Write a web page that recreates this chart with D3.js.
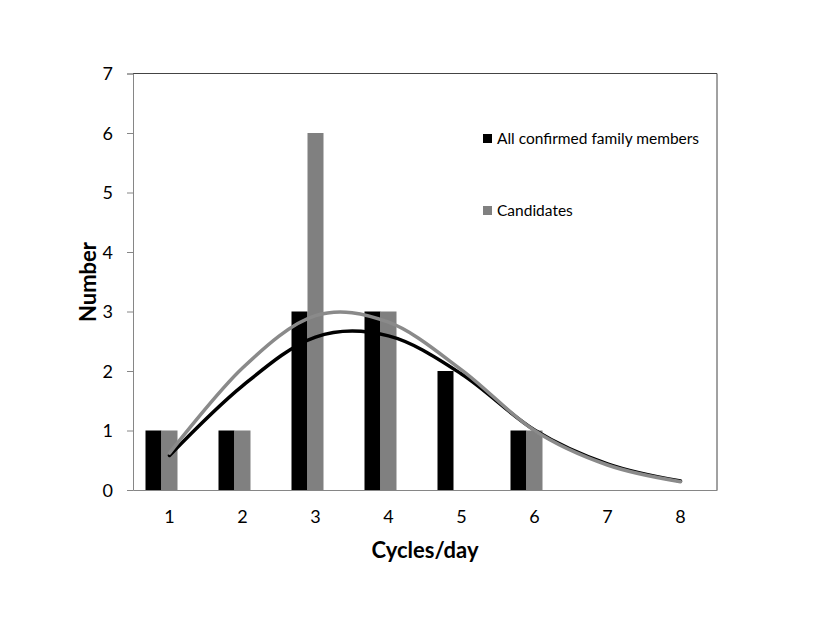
<!DOCTYPE html>
<html>
<head>
<meta charset="utf-8">
<script src="https://cdn.jsdelivr.net/npm/d3@7"></script>
<style>
  body { margin: 0; background: #fff; }
  svg text { font-family: Lato, "Open Sans", sans-serif; fill: #000; }
</style>
</head>
<body>
<svg id="chart" width="817" height="632"></svg>
<script>
// categories and values
var categories = [1, 2, 3, 4, 5, 6, 7, 8];
var confirmed  = [1, 1, 3, 3, 2, 1, 0, 0];
var candidates = [1, 1, 6, 3, 0, 1, 0, 0];
var confirmedFit  = [0.58, 1.75, 2.57, 2.59, 1.95, 1.01, 0.44, 0.15];
var candidatesFit = [0.62, 2.05, 2.93, 2.82, 2.02, 1.0, 0.42, 0.14];
var yTicks = [0, 1, 2, 3, 4, 5, 6, 7];
var seriesNames = ['All confirmed family members', 'Candidates'];
var seriesColors = ['#000000', '#808080'];

var svg = d3.select('#chart');
var plotL = 133, plotR = 717, plotT = 73.5, plotB = 490;

var x = d3.scaleBand().domain(categories).range([plotL, plotR]);
// three slots per cluster, the third one is empty (as in the original)
var xs = d3.scaleBand().domain([0, 1, 2]).range([0, 48]);
var y = d3.scaleLinear().domain([0, 7]).range([plotB, plotT]);

// plot frame (top + right)
svg.append('path')
    .attr('d', 'M' + plotL + ',' + plotT + 'H' + plotR + 'V' + plotB)
    .attr('fill', 'none')
    .attr('stroke', '#444')
    .attr('stroke-width', 1);

// y axis
var yAxis = svg.append('g')
    .attr('transform', 'translate(' + plotL + ',0)')
    .call(d3.axisLeft(y).tickValues(yTicks).tickFormat(d3.format('d'))
        .tickSize(6).tickPadding(14));
yAxis.select('.domain').attr('stroke', '#868686');
yAxis.selectAll('.tick line').attr('stroke', '#868686');
yAxis.selectAll('.tick text').attr('font-size', 18).attr('dy', '0.35em');

// x axis
var xAxis = svg.append('g')
    .attr('transform', 'translate(0,' + plotB + ')')
    .call(d3.axisBottom(x).tickSize(0).tickPadding(20));
xAxis.select('.domain').attr('stroke', '#868686');
xAxis.selectAll('.tick text').attr('font-size', 18);

// bars
var groups = [confirmed, candidates];
groups.forEach(function(vals, s) {
    svg.append('g').selectAll('rect')
        .data(vals)
        .enter().append('rect')
        .attr('x', function(d, i){
            return x(categories[i]) + x.bandwidth() / 2 - 24 + xs(s);
        })
        .attr('y', function(d){ return y(d); })
        .attr('width', xs.bandwidth())
        .attr('height', function(d){ return plotB - y(d); })
        .attr('fill', seriesColors[s]);
});

// smoothed fit lines
var line = d3.line()
    .x(function(d, i){ return x(categories[i]) + x.bandwidth() / 2; })
    .y(function(d){ return y(d); })
    .curve(d3.curveCardinal.tension(0));

svg.append('path')
    .datum(confirmedFit)
    .attr('d', line)
    .attr('fill', 'none')
    .attr('stroke', '#000')
    .attr('stroke-width', 3.5)
    .attr('stroke-linecap', 'round');

svg.append('path')
    .datum(candidatesFit)
    .attr('d', line)
    .attr('fill', 'none')
    .attr('stroke', '#8a8a8a')
    .attr('stroke-width', 3.5)
    .attr('stroke-linecap', 'round');

// legend
var legend = svg.append('g').selectAll('g')
    .data(seriesNames)
    .enter().append('g')
    .attr('transform', function(d, i){ return 'translate(483,' + (138 + i * 72) + ')'; });
legend.append('rect')
    .attr('x', 0).attr('y', -4)
    .attr('width', 9).attr('height', 9)
    .attr('fill', function(d, i){ return seriesColors[i]; });
legend.append('text')
    .attr('x', 14).attr('y', 1)
    .attr('dy', '0.35em')
    .attr('font-size', 15.5)
    .text(function(d){ return d; });

// axis titles
svg.append('text')
    .attr('x', 425).attr('y', 550)
    .attr('dy', '0.35em')
    .attr('text-anchor', 'middle')
    .attr('font-size', 22)
    .attr('font-weight', 'bold')
    .text('Cycles/day');

svg.append('text')
    .attr('transform', 'translate(88,282) rotate(-90)')
    .attr('dy', '0.35em')
    .attr('text-anchor', 'middle')
    .attr('font-size', 22)
    .attr('font-weight', 'bold')
    .text('Number');
</script>
</body>
</html>
